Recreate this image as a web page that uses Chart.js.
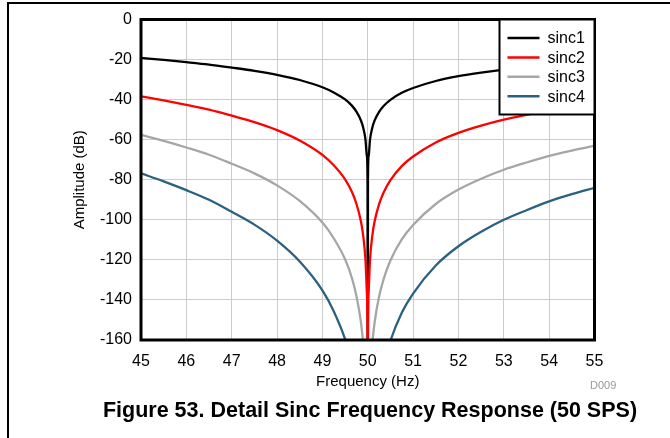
<!DOCTYPE html>
<html>
<head>
<meta charset="utf-8">
<script src="https://cdn.jsdelivr.net/npm/chart.js@4.4.0/dist/chart.umd.min.js"></script>
<style>
  html, body { margin: 0; padding: 0; background: #fff; }
  #wrap { position: relative; width: 670px; height: 438px; overflow: hidden; font-family: 'Liberation Sans', Arial, sans-serif; }
  #frame { position: absolute; left: 7px; top: 2px; width: 700px; height: 500px; border-top: 2px solid #000; border-left: 2px solid #000; }
  #chart { position: absolute; left: 0; top: 0; }
  #code { position: absolute; left: 590px; top: 379px; font-size: 11px; color: #999; }
  #caption { position: absolute; left: 0; width: 740px; top: 397px; line-height: 26px; text-align: center; font-weight: bold; font-size: 21.5px; color: #000; }
</style>
</head>
<body>
<div id="wrap">
  <div id="frame"></div>
  <canvas id="chart" width="670" height="438"></canvas>
  <div id="code">D009</div>
  <div id="caption">Figure 53. Detail Sinc Frequency Response (50 SPS)</div>
</div>
<script>
// frequency points (Hz), dense near the 50 Hz notch
var freq = [45, 45.5, 46, 46.5, 47, 47.5, 48, 48.5, 49, 49.25, 49.5, 49.65, 49.75, 49.85, 49.9, 49.95, 49.98, 49.995, 50,
            50.005, 50.02, 50.05, 50.1, 50.15, 50.25, 50.35, 50.5, 50.75, 51, 51.5, 52, 52.5, 53, 53.5, 54, 54.5, 55];

// amplitude (dB) per filter order, values below -160 fall off the plot
var sinc1 = [-19.2, -20.2, -21.3, -22.5, -24.0, -25.6, -27.6, -30.2, -33.8, -36.4, -39.9, -43.0, -46.0, -50.4, -54.0, -60.0, -68.0, -80.0, -250,
             -80.0, -68.0, -60.0, -54.0, -50.5, -46.1, -43.2, -40.1, -36.6, -34.2, -30.7, -28.3, -26.5, -25.0, -23.8, -22.7, -21.8, -21.0];
var sinc2 = [-38.4, -40.4, -42.6, -45.0, -48.0, -51.2, -55.2, -60.4, -67.6, -72.8, -79.8, -86.0, -92.0, -100.8, -108.0, -120.0, -136.0, -160.0, -250,
             -160.0, -136.0, -120.0, -108.0, -101.0, -92.2, -86.4, -80.2, -73.2, -68.4, -61.4, -56.6, -53.0, -50.0, -47.6, -45.4, -43.6, -42.0];
var sinc3 = [-57.6, -60.6, -63.9, -67.5, -72.0, -76.8, -82.8, -90.6, -101.4, -109.2, -119.7, -129.0, -138.0, -151.2, -162.0, -180.0, -204, -240, -250,
             -240, -204, -180.0, -162.0, -151.5, -138.3, -129.6, -120.3, -109.8, -102.6, -92.1, -84.9, -79.5, -75.0, -71.4, -68.1, -65.4, -63.0];
var sinc4 = [-76.8, -80.8, -85.2, -90.0, -96.0, -102.4, -110.4, -120.8, -135.2, -145.6, -159.6, -172.0, -184.0, -201.6, -216, -240, -250, -250, -250,
             -250, -250, -240, -216, -202, -184.4, -172.8, -160.4, -146.4, -136.8, -122.8, -113.2, -106.0, -100.0, -95.2, -90.8, -87.2, -84.0];

var seriesNames = ['sinc1', 'sinc2', 'sinc3', 'sinc4'];
var seriesColors = ['#000000', '#ff0000', '#a6a6a6', '#2b6180'];
var xTicks = [45, 46, 47, 48, 49, 50, 51, 52, 53, 54, 55];
var yTicks = [0, -20, -40, -60, -80, -100, -120, -140, -160];

var FONT = "'Liberation Sans', Arial, sans-serif";

function pts(vals) {
    return freq.map(function (f, i) { return { x: f, y: vals[i] }; });
}

// thick frame around the plot + boxed legend in the top-right corner
var framePlugin = {
    id: 'frameAndLegend',
    afterDatasetsDraw: function (chart) {
        var a = chart.chartArea, ctx = chart.ctx;
        ctx.save();
        ctx.lineWidth = 3;
        ctx.strokeStyle = '#000';
        ctx.strokeRect(a.left, a.top, a.right - a.left, a.bottom - a.top);

        var bx = a.right - 95, by = a.top, bw = 95, bh = 95;
        ctx.fillStyle = '#fff';
        ctx.fillRect(bx, by, bw, bh);
        ctx.lineWidth = 2;
        ctx.strokeRect(bx, by, bw, bh);

        ctx.font = '16px ' + FONT;
        ctx.textBaseline = 'middle';
        ctx.textAlign = 'left';
        chart.data.datasets.forEach(function (ds, i) {
            var y = by + 18.5 + i * 19.4;
            ctx.strokeStyle = ds.borderColor;
            ctx.lineWidth = 2.5;
            ctx.beginPath();
            ctx.moveTo(bx + 8, y);
            ctx.lineTo(bx + 40, y);
            ctx.stroke();
            ctx.fillStyle = '#000';
            ctx.fillText(ds.label, bx + 48, y + 1);
        });
        ctx.restore();
    }
};

var ctx = document.getElementById('chart').getContext('2d');
var chart = new Chart(ctx, {
    type: 'line',
    data: {
        datasets: [sinc1, sinc2, sinc3, sinc4].map(function (vals, i) {
            return {
                label: seriesNames[i],
                data: pts(vals),
                borderColor: seriesColors[i],
                backgroundColor: seriesColors[i],
                borderWidth: 2.3,
                pointRadius: 0,
                fill: false,
                cubicInterpolationMode: 'monotone',
                order: i == 1 ? 0 : i + 1
            };
        })
    },
    options: {
        responsive: false,
        animation: false,
        layout: { padding: { left: 0, top: 19.5, right: 75.5, bottom: 0 } },
        plugins: {
            legend: { display: false },
            tooltip: { enabled: false }
        },
        scales: {
            x: {
                type: 'linear',
                min: 45, max: 55,
                afterFit: function (s) { s.height = 98; },
                afterBuildTicks: function (s) { s.ticks = xTicks.map(function (v) { return { value: v }; }); },
                grid: { color: '#cccccc', lineWidth: 1, drawTicks: false },
                border: { display: false },
                ticks: { color: '#000', padding: 12, font: { family: FONT, size: 16 } },
                title: { display: true, text: 'Frequency (Hz)', color: '#000', padding: { top: 0, bottom: 47 }, font: { family: FONT, size: 15 } }
            },
            y: {
                min: -160, max: 0,
                afterFit: function (s) { s.width = 141; },
                afterBuildTicks: function (s) { s.ticks = yTicks.map(function (v) { return { value: v }; }); },
                grid: { color: '#cccccc', lineWidth: 1, drawTicks: false },
                border: { display: false },
                ticks: { color: '#000', padding: 9, font: { family: FONT, size: 16 } },
                title: { display: true, text: 'Amplitude (dB)', color: '#000', padding: { top: 71, bottom: 0 }, font: { family: FONT, size: 15 } }
            }
        }
    },
    plugins: [framePlugin]
});
</script>
</body>
</html>
